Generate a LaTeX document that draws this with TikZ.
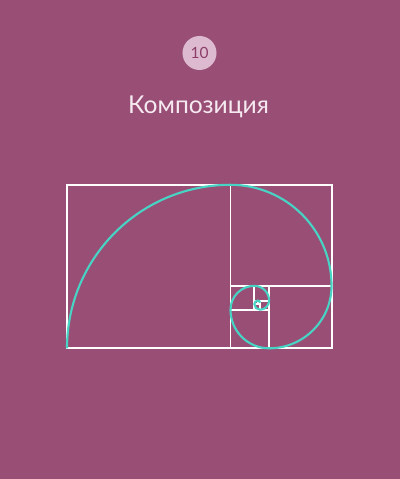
\documentclass[tikz,border=0pt]{standalone}
\usepackage{fontspec}
\setmainfont{Lato}
\usepackage{xcolor}
\usepackage{tikz}
\usetikzlibrary{calc, positioning}

\definecolor{nen}{RGB}{153,78,118}
\definecolor{hong}{RGB}{221,186,208}
\definecolor{chuso}{RGB}{140,62,104}
\definecolor{ngoc}{RGB}{72,212,196}
\definecolor{chu}{RGB}{246,234,241}

\begin{document}
\begin{tikzpicture}[x=0.025cm, y=0.025cm,
    khung/.style={white, line width=1.4pt},
    xoan/.style={ngoc, line width=1.5pt}]
    % 1. Nền
    \fill[nen] (0,0) rectangle (400,479);
    
    % 2. Số thứ tự và tiêu đề
    \node[circle, fill=hong, minimum size=0.85cm, inner sep=0pt, text=chuso,
        font=\fontsize{11}{12}\selectfont] (so) at (199.5,426) {10};
    \node[anchor=base, text=chu, font=\fontsize{17.5}{20}\selectfont]
        (tieude) at (198.5,365) {Композиция};
    
    % 3. Các điểm của đường xoắn ốc vàng
    \coordinate (p0) at (67,130.7);
    \foreach \k [count=\n from 1, evaluate=\k as \r using {163.5/1.618034^\k}] in {0,...,9}
        \path (p\k) arc[start angle={180-90*\k}, end angle={90-90*\k}, radius=\r] coordinate (p\n);
    
    % 4. Các hình vuông
    \foreach \k [count=\n from 1] in {0,...,9}
        \draw[khung] (p\k) rectangle (p\n);
    
    % 5. Đường xoắn ốc
    \draw[xoan] (p0) foreach \k [evaluate=\k as \r using {163.5/1.618034^\k}] in {0,...,9}
        { arc[start angle={180-90*\k}, end angle={90-90*\k}, radius=\r] };
    
\end{tikzpicture}
\end{document}
